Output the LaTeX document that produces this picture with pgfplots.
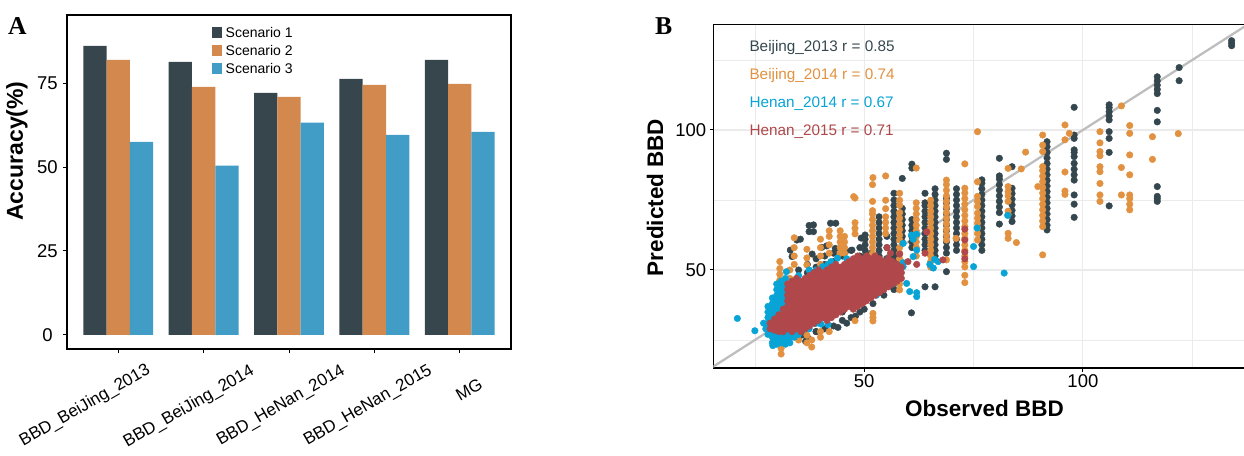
\documentclass[border=0pt]{standalone}
\usepackage{fontspec}
\setmainfont{Liberation Sans}
\newfontfamily\serifface{Liberation Serif}
\usepackage{pgfplots}
\pgfplotsset{compat=1.18}
\definecolor{sA}{HTML}{37454D}
\definecolor{sB}{HTML}{D3884E}
\definecolor{sC}{HTML}{419DC6}
\definecolor{cDk}{HTML}{35474E}
\definecolor{cOr}{HTML}{E1913F}
\definecolor{cBl}{HTML}{07A4D5}
\definecolor{cRd}{HTML}{B0474A}
\definecolor{gridc}{HTML}{EBEBEB}
\definecolor{linec}{HTML}{BEBEBE}
\pgfplotsset{
  pts/.style={only marks, mark=*, mark size=3.3pt, mark options={draw=none, fill=#1}, color=#1},
}
\begin{document}
\begin{tikzpicture}[x=1pt,y=1pt]
\useasboundingbox (0,0) rectangle (1244,455);
% ---------------- Panel A ----------------
\begin{axis}[
  at={(67pt,106pt)}, anchor=south west, scale only axis,
  width=444pt, height=334pt,
  xmin=-0.6, xmax=4.6, ymin=-4.2, ymax=95.3,
  ybar, bar width=0.273,
  xtick={0,1,2,3,4}, xticklabels={},
  ytick={0,25,50,75},
  tick align=outside, tick pos=left, major tick length=4.5pt,
  tick style={black, line width=1pt},
  axis line style={black, line width=1.2pt},
  /pgf/number format/assume math mode=true,
  yticklabel style={font=\fontsize{18.5}{21}\selectfont, anchor=center, xshift=-15pt},
  legend image code/.code={\draw[#1, draw=none] (0pt,-5.5pt) rectangle (10pt,5.5pt);},
  legend style={at={(0.3266,0.975)}, anchor=north west, draw=none, fill=none, inner sep=0pt,
     font=\fontsize{14}{16}\selectfont, row sep=0pt,
     nodes={inner sep=3.5pt, text height=10pt, text depth=1pt}},
  legend cell align=left,
]
\addplot[fill=sA, draw=none, bar shift=-0.273] coordinates {(0,86.1) (1,81.3) (2,72.1) (3,76.3) (4,81.9)};
\addplot[fill=sB, draw=none, bar shift=0] coordinates {(0,81.9) (1,73.9) (2,70.9) (3,74.5) (4,74.8)};
\addplot[fill=sC, draw=none, bar shift=0.273] coordinates {(0,57.5) (1,50.4) (2,63.2) (3,59.6) (4,60.5)};
\legend{Scenario 1, Scenario 2, Scenario 3}
\end{axis}
% ---------------- Panel B ----------------
\begin{axis}[
  at={(713.3pt,87pt)}, anchor=south west, scale only axis,
  width=531.7pt, height=343.7pt,
  xmin=15.5, xmax=137.06, ymin=15, ymax=137.75,
  xtick={50,100}, ytick={50,100},
  minor xtick={25,75,125}, minor ytick={25,75,125},
  grid=both,
  major grid style={gridc, line width=1.1pt},
  minor grid style={gridc, line width=0.6pt},
  tick align=outside, tick pos=left, major tick length=3.5pt, minor tick length=0pt,
  tick style={black, line width=1pt},
  axis line style={black, line width=1.2pt},
  /pgf/number format/assume math mode=true,
  ticklabel style={font=\fontsize{18.5}{21}\selectfont},
]
% Beijing_2013
\addplot[pts=cDk] coordinates {
(33,27)(33,31)(33,35)(33,40)(33,44)
(35,26)(35,30)(35,34)(35,38)(35,42)(35,46)(35,50)
(37,26)(37,30)(37,34)(37,38)(37,42)(37,46)(37,49)(37,52)
(39,28)(39,32)(39,36)(39,40)(39,44)(39,48)(39,51)(39,54)
(41,29)(41,33)(41,37)(41,41)(41,45)(41,49)(41,52)(41,55)
(43,30)(43,34)(43,38)(43,42)(43,46)(43,50)(43,53)(43,56)
(45,32)(45,35)(45,39)(45,43)(45,47)(45,51)(45,55)
(47,33)(47,37)(47,41)(47,45)(47,49)(47,53)(47,57)
(49,35)(49,39)(49,43)(49,47)(49,51)(49,55)(49,58)
(33.1,57.1)(33.5,54.8)(34.6,60.7)(35.4,61)(37.4,65.9)(37.4,63.7)(38.4,66.1)(38.4,63.7)
(42.3,66.7)(43.5,66.7)(40.3,58.1)(41.4,58.6)(43.4,57.7)(45.7,56.5)(38.1,55.7)(49.3,61.4)
(47.2,57.1)(36,26.8)(36.6,24.5)(38.7,31)(39,28)(60.8,34.7)(44,29.5)(46,31)(48,33.5)(50,36)(52,38)(54.5,41)
(50.2,53)(50.2,55)(50.2,57)(50.2,59)(50.2,61)(50.2,62.5)
(51.6,42)(51.6,46)(51.6,50)(51.6,54)(51.6,56)
(53.4,42)(53.4,53)(53.4,55)(53.4,57)(53.4,59)(53.4,61)(53.4,63)(53.4,65)(53.4,67)(53.4,69)
(55.2,46)(55.2,50)(55.2,54)(55.2,58)(55.2,62)
(56.8,43)(56.8,45)(56.8,47)(56.8,49)(56.8,51)(56.8,53)(56.8,55)(56.8,57)(56.8,59)(56.8,61)(56.8,63)(56.8,65)(56.8,67)(56.8,69)(56.8,71)(56.8,73)(56.8,75)(56.8,77.4)
(58.7,60)(58.7,62)(58.7,64)(58.7,66)(58.7,68)(58.7,70)(58.7,72)(58.7,82.7)
(60.9,58)(60.9,60)(60.9,62)(60.9,64)(60.9,66)(60.9,68)(60.9,86.4)(60.9,87.8)
(63.9,44)(63.9,57)(63.9,59)(63.9,61)(63.9,63)(63.9,65)(63.9,67)(63.9,69)(63.9,71)(63.9,73)(63.9,74)(63.9,77.4)
(66.2,44)(66.2,55)(66.2,57)(66.2,59)(66.2,61)(66.2,63)(66.2,65)(66.2,67)(66.2,69)(66.2,71)(66.2,73)(66.2,75)(66.2,77)(66.2,79)
(68.8,49.4)(68.8,56)(68.8,58)(68.8,60)(68.8,62)(68.8,64)(68.8,66)(68.8,68)(68.8,70)(68.8,72)(68.8,74)(68.8,75.6)(68.8,89.5)(68.8,91.7)
(71.1,57)(71.1,59)(71.1,61)(71.1,63)(71.1,65)(71.1,67)(71.1,69)(71.1,71)(71.1,73)(71.1,75)(71.1,77)(71.1,79)
(76.9,57)(76.9,59)(76.9,61)(76.9,63)(76.9,65)(76.9,67)(76.9,69)(76.9,71)(76.9,73)(76.9,75)(76.9,77)(76.9,79)(76.9,81)(76.9,82.2)
(80.9,66.4)(80.9,70.5)(80.9,72.5)(80.9,74.5)(80.9,76.5)(80.9,78.5)(80.9,80.5)(80.9,82.5)(80.9,83.6)(80.9,89.9)
(83.8,67.3)(83.8,69.3)(83.8,71.3)(83.8,73.3)(83.8,75.3)(83.8,77.3)(83.8,79.2)(83.8,86.9)
(91.8,64.3)(91.8,66)(91.8,68)(91.8,70)(91.8,72)(91.8,74)(91.8,76)(91.8,78)(91.8,80)(91.8,82)(91.8,84)(91.8,86)(91.8,88)(91.8,90)(91.8,92)(91.8,94)(91.8,95.8)
(98,68.8)(98,73.5)(98,76.8)(98,82.1)(98,84)(98,86)(98,88.1)(98,90.5)(98,92)(98,92.9)(98,97)(98,98.2)(98,108.1)
(106,72.9)(106,92)(106,97)(106,99.4)(106,103.6)(106,105)(106,106.5)(106,108)(106,109)
(117,74.5)(117,75.5)(117,76.3)(117,79.8)(117,102.9)(117,107)(117,113)(117,114.5)(117,116)(117,117.5)(117,119)
(122,117.6)(122,122.3)
(134,130.1)(134,131)(134,131.9)
};
% Beijing_2014
\addplot[pts=cOr] coordinates {
(31,20)(31,22)(31,24)(31,26)(30.7,43)(30.7,46.4)(30.7,48.5)(30.7,50.5)(30.7,53)
(33,47)(33,50)(34,52)(34,55)(34,58)(34,61.5)(35,25)(35,28)
(36.9,24)(36.9,26.7)(36.9,51.8)(36.9,54.3)(36.9,57.4)(38,22.5)(38,25)
(40,26)(40,28)(40,52)(40,55)(40,58)(40,61)
(42,28)(42,56)(42,59)(42,62)(42,64)
(44.5,35.8)(44.5,38.3)(44.5,56)(44.5,58)(44.5,60)(44.5,62)(44.5,64)
(45.5,56)(45.5,58)(45.5,60)(45.5,62)
(47.6,76.2)(47.9,31.9)(47.9,37.6)(47.9,39.5)(47.9,62.9)(47.9,64.9)(47.9,66.9)(47.9,75.7)
(52,31.8)(52,33)(52,34.5)
(51.9,53.6)(51.9,56)(51.9,58)(51.9,60)(51.9,62)(51.9,64)(51.9,66)(51.9,68)(51.9,70)(51.9,71.2)(51.9,74.5)(51.9,80.5)(52,83)
(54.9,63)(54.9,65)(54.9,67)(54.9,69)(54.9,71.9)(54.9,74.9)(54.9,83.6)
(58.1,42.9)(58.1,45)(58.1,47.6)(58.1,50)(58.1,52)(58.1,54)(58.1,56)(58.1,58)(58.1,60.7)(58.1,62.5)(58.1,64.5)(58.1,66.5)(58.1,68.5)(58.1,70.5)(58.1,73.1)(58.1,74.9)(58.1,77.4)
(61.9,55)(61.9,58)(61.9,60)(61.9,62)(61.9,64)(61.9,66)(61.9,68)(61.9,70)(61.9,72)(61.9,74)(61.9,86.4)
(65.2,51)(65.2,53)(65.2,55)(65.2,57)(65.2,59)(65.2,61)(65.2,63)(65.2,65)(65.2,67)(65.2,69)(65.2,71)(65.2,73)(65.2,74.9)
(68.8,53.6)(68.8,60.7)(68.8,62.5)(68.8,64.5)(68.8,66.5)(68.8,68.5)(68.8,70.5)(68.8,72.5)(68.8,74.5)(68.8,76.5)(68.8,78.5)(68.8,80.5)(68.8,82.1)
(71,61.3)
(73,45.5)(73,48.1)(73,51.1)(73,53)(73,55)(73,57)(73,58.9)(73,61.3)(73,63)(73,65.5)(73,67.5)(73,69.5)(73,71.5)(73,73.5)(73,75.5)(73,77.5)(73,79.2)(73,87.9)
(75.9,60.7)(75.9,63)(75.9,65)(75.9,66.7)(75.9,68.5)(75.9,70.3)(75.9,72.7)(75.9,74.5)(75.9,76.3)(75.9,81.5)(75.9,99.4)
(82.9,61.3)(82.9,63.1)(82.9,69.8)(82.9,71)(82.9,74.5)(82.9,76.5)(82.9,78)(82.9,79.8)(82.9,86.3)
(84.8,59.8)(85.9,86.1)(86.9,92.1)(89.7,79.8)
(90.8,55.4)(90.8,65.5)(90.8,67.5)(90.8,69.5)(90.8,71.5)(90.8,73.5)(90.8,75.5)(90.8,77.5)(90.8,79.5)(90.8,81.5)(90.8,83.5)(90.8,85.5)(90.8,86.9)(90.8,92.3)(90.8,94.6)(90.8,98.2)
(95.9,77)(95.9,78.2)(95.9,85)(95.9,96.5)(95.9,101.8)(96.9,98.8)
(103.9,74.5)(103.9,76.8)(103.9,80.9)(103.9,85.1)(103.9,86.9)(103.9,90.8)(103.9,92.3)(103.9,95.4)(103.9,99.4)
(108.8,76.8)(108.8,86.6)(108.8,108.6)
(110.7,71.5)(110.7,73.5)(110.7,75.5)(110.7,76.8)(110.7,84)(110.7,91.1)(110.7,98.8)(110.7,101.6)
(115.9,89.5)(115.9,97.6)(121.8,98.7)
};
% Henan_2014
\addplot[pts=cBl] coordinates {
(28,27)(28,29)(28,31)(28,33)(28,35)(28,37)
(29,24)(29,26)(29,28)(29,30)(29,32)(29,34)(29,36)(29,38)(29,40)
(30,23.5)(30,25)(30,27)(30,29)(30,31)(30,33)(30,35)(30,37)(30,39)(30,41)(30,43)(30,45)
(31,24)(31,26)(31,28)(31,30)(31,32)(31,34)(31,36)(31,38)(31,40)(31,42)(31,44)(31,46)
(32,23.5)(32,25)(32,27)(32,29)(32,31)(32,33)(32,35)(32,37)(32,39)(32,41)(32,43)(32,45)(32,47)(32.2,49.4)
(33,24)(33,26)(33,28)(33,30)(33,32)(33,34)(33,36)(33,38)(33,40)(33,42)
(34,26)(34,28)(34,31)(34,35)(34,39)(34,43)
(21,32.7)(25,28.3)(27,31)(27.5,29)(29.1,23)
(35,27)(35,30)(35,45)(35,48)(36.4,29)(36.4,45.2)(37.4,29)(37.4,43.3)(37.4,50)(38.6,34)(38.6,49.4)
(39,31)(39,50)(40.1,30.7)(40.5,51.2)(41.7,30.5)(41.7,48.2)(41.7,52)(42.4,35.2)(42.4,53)(43.9,36)(43.9,54.2)
(44.4,38)(44.4,42.3)(46,40)(46,52)(46,54)(48.5,38.1)(48.5,42)(48.5,53)(50.2,42.9)(50.2,45)(50.2,47.6)
(52.8,41)(52.8,44)(52.8,46)(54.6,44)(54.6,46.4)(56.6,45.2)(57,47.6)(58.9,51.2)(58.9,52.6)(58.9,59.5)
(59.7,45.2)(60.4,42.3)(60.8,62.5)(61.2,54.8)(61.2,61)(62,57.1)(62,40.5)(62,41.9)(62,62.8)
(65,52)(65.8,50.7)(66.9,53)(66.1,53.8)(75,51.2)(75,58.4)(75.8,65)(82.8,69.5)(82,48.9)
};
% Henan_2015
\addplot[pts=cRd] coordinates {
(28.5,29)(28.5,31)(29.5,28.5)(29.5,30.5)(29.5,32.5)
(30.5,28)(30.5,30)(30.5,32)(30.5,34)
(31.5,28)(31.5,30)(31.5,32)(31.5,34)(31.5,36)
(32.5,29)(32.5,31)(32.5,33)(32.5,35)(32.5,37)(32.5,39)(32.5,41)(32.5,43)(32.5,45)
(33.5,28)(33.5,30)(33.5,32)(33.5,34)(33.5,36)(33.5,38)(33.5,40)(33.5,42)(33.5,44)(33.5,46)
(34.5,29)(34.5,31)(34.5,33)(34.5,35)(34.5,37)(34.5,39)(34.5,41)(34.5,43)(34.5,45)(34.5,47)
(35.5,28)(35.5,30)(35.5,32)(35.5,34)(35.5,36)(35.5,38)(35.5,40)(35.5,42)(35.5,44)(35.5,46)
(36.5,29)(36.5,31)(36.5,33)(36.5,35)(36.5,37)(36.5,39)(36.5,41)(36.5,43)(36.5,45)(36.5,47)
(37.5,30)(37.5,32)(37.5,34)(37.5,36)(37.5,38)(37.5,40)(37.5,42)(37.5,44)(37.5,46)(37.5,48)
(38.5,31)(38.5,33)(38.5,35)(38.5,37)(38.5,39)(38.5,41)(38.5,43)(38.5,45)(38.5,47)(38.5,49)
(39.5,32)(39.5,34)(39.5,36)(39.5,38)(39.5,40)(39.5,42)(39.5,44)(39.5,46)(39.5,48)(39.5,50)
(40.5,33)(40.5,35)(40.5,37)(40.5,39)(40.5,41)(40.5,43)(40.5,45)(40.5,47)(40.5,49)
(41.5,32)(41.5,34)(41.5,36)(41.5,38)(41.5,40)(41.5,42)(41.5,44)(41.5,46)(41.5,48)(41.5,50)
(42.5,33)(42.5,35)(42.5,37)(42.5,39)(42.5,41)(42.5,43)(42.5,45)(42.5,47)(42.5,49)(42.5,51)
(43.5,34)(43.5,36)(43.5,38)(43.5,40)(43.5,42)(43.5,44)(43.5,46)(43.5,48)(43.5,50)(43.5,52)
(44.5,35)(44.5,37)(44.5,39)(44.5,41)(44.5,43)(44.5,45)(44.5,47)(44.5,49)(44.5,51)
(45.5,36)(45.5,38)(45.5,40)(45.5,42)(45.5,44)(45.5,46)(45.5,48)(45.5,50)(45.5,52)
(46.5,37)(46.5,39)(46.5,41)(46.5,43)(46.5,45)(46.5,47)(46.5,49)(46.5,51)(46.5,53)
(47.5,36)(47.5,38)(47.5,40)(47.5,42)(47.5,44)(47.5,46)(47.5,48)(47.5,50)(47.5,52)(47.5,54)
(48.5,37)(48.5,39)(48.5,41)(48.5,43)(48.5,45)(48.5,47)(48.5,49)(48.5,51)(48.5,53)(48.5,55)
(49.5,38)(49.5,40)(49.5,42)(49.5,44)(49.5,46)(49.5,48)(49.5,50)(49.5,52)(49.5,54)
(50.5,39)(50.5,41)(50.5,43)(50.5,45)(50.5,47)(50.5,49)(50.5,51)(50.5,53)(50.5,55)
(51.5,40)(51.5,42)(51.5,44)(51.5,46)(51.5,48)(51.5,50)(51.5,52)(51.5,54)
(52.5,41)(52.5,43)(52.5,45)(52.5,47)(52.5,49)(52.5,51)(52.5,53)(52.5,55)
(53.5,42)(53.5,44)(53.5,46)(53.5,48)(53.5,50)(53.5,52)(53.5,54)
(54.5,43)(54.5,45)(54.5,47)(54.5,49)(54.5,51)(54.5,53)
(55.5,44)(55.5,46)(55.5,48)(55.5,50)(55.5,52)(55.5,54)
(56.5,45)(56.5,47)(56.5,49)(56.5,51)(56.5,53)
(57.5,46)(57.5,48)(57.5,50)(57.5,52)
(58.5,47)(58.5,49)(58.5,51)
(55.2,58)(64.3,63.6)(63.9,56)(68,53.6)(73,64.6)(73,60.7)(73,56.4)(73,54)(49.7,38.2)(58.1,55.7)(60,53)(62,52)(56,56)
};
\addplot[draw=linec, line width=2.3pt] coordinates {(10,10) (140,140)};
\end{axis}
% ---------------- Texts ----------------
\node[font=\serifface\bfseries\fontsize{25.7}{28}\selectfont] at (17.5,428.5) {A};
\node[font=\serifface\bfseries\fontsize{25.7}{28}\selectfont] at (663.7,429) {B};
\node[rotate=90, font=\bfseries\fontsize{23}{26}\selectfont] at (17,304) {Accuracy(\%)};
\node[rotate=90, font=\bfseries\fontsize{22.5}{26}\selectfont] at (655,257.5) {Predicted BBD};
\node[font=\bfseries\fontsize{22.5}{26}\selectfont] at (984.5,47) {Observed BBD};
\begin{scope}[every node/.style={rotate=30, anchor=center, inner sep=0pt, font=\fontsize{17}{20}\selectfont}]
\node at (85,49) {BBD\_BeiJing\_2013};
\node at (189,48) {BBD\_BeiJing\_2014};
\node at (281,49) {BBD\_HeNan\_2014};
\node at (368,49) {BBD\_HeNan\_2015};
\node at (469,65) {MG};
\end{scope}
\begin{scope}[every node/.style={anchor=base west, font=\fontsize{15.3}{18}\selectfont}]
\node[text=cDk] at (746,403.3) {Beijing\_2013 r = 0.85};
\node[text=cOr] at (746,375.3) {Beijing\_2014 r = 0.74};
\node[text=cBl] at (746,347.3) {Henan\_2014 r = 0.67};
\node[text=cRd] at (746,319.3) {Henan\_2015 r = 0.71};
\end{scope}
\end{tikzpicture}
\end{document}
